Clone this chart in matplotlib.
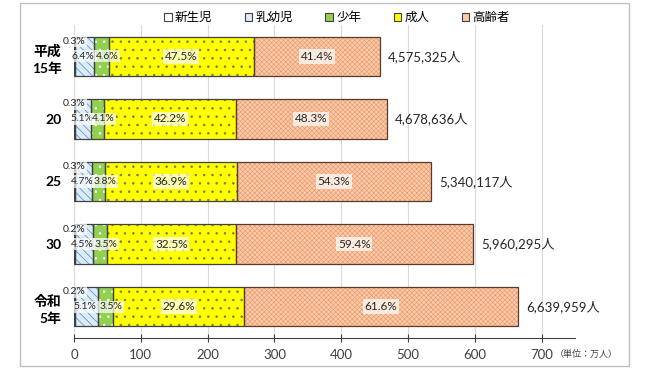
import numpy as np
import matplotlib
matplotlib.use('Agg')
import matplotlib.pyplot as plt
from matplotlib.patches import Patch, Rectangle

plt.rcParams['font.family'] = ['Lato', 'Noto Sans CJK JP', 'DejaVu Sans']
plt.rcParams['hatch.linewidth'] = 0.6

# データ
nendo = ['平成\n15年', '20', '25', '30', '令和\n5年']
sou_jinin = [4575325, 4678636, 5340117, 5960295, 6639959]  # 人
shinseiji = [0.3, 0.3, 0.3, 0.2, 0.2]   # %
nyuyoji = [6.4, 5.1, 4.7, 4.5, 5.1]
shonen = [4.6, 4.1, 3.8, 3.5, 3.5]
seijin = [47.5, 42.2, 36.9, 32.5, 29.6]
koreisha = [41.4, 48.3, 54.3, 59.4, 61.6]
kubun = ['新生児', '乳幼児', '少年', '成人', '高齢者']
xticks = [0, 100, 200, 300, 400, 500, 600, 700]

###### スタイル ######
iro = ['#FFFFFF', '#DDEBF7', '#92D050', '#FFFF00', '#F8CBAD']
hatch_iro = ['#FFFFFF', '#5B9BD5', '#FFFFFF', '#7F7F3F', '#EE9A68']
hatches = [None, '\\\\\\\\', '..', '..', 'xxxxxxx']
waku = ['#404040', '#404040', '#404040', '#404040', '#5A3A2A']

fig = plt.figure(figsize=(6.48, 3.71), dpi=100)
ax = fig.add_axes([74/648, 1-338/371, 501/648, 313/371])

y = np.arange(len(nendo))
total_man = np.array(sou_jinin) / 1e4
pcts = [shinseiji, nyuyoji, shonen, seijin, koreisha]

ax.set_axisbelow(True)
ax.xaxis.grid(True, color='#D9D9D9', lw=0.8)

left = np.zeros(len(nendo))
for k, p in enumerate(pcts):
    w = total_man * np.array(p) / 100.0
    if k == 4:
        plt.rcParams['hatch.linewidth'] = 0.45
    ax.barh(y, w, left=left, height=0.63, color=iro[k], edgecolor=hatch_iro[k],
            hatch=hatches[k], lw=0, zorder=2)
    ax.barh(y, w, left=left, height=0.63, fill=False, edgecolor=waku[k],
            lw=0.9, zorder=3)
    for i in range(len(nendo)):
        txt = f'{p[i]}%'
        fs = 8.5
        if k == 0:
            xx, yy = 0, y[i] - 0.24
            fs = 7.5
        elif k == 1:
            xx, yy = left[i] + w[i] / 2 - 2, y[i]
            fs = 7.5
        elif k == 2:
            xx, yy = left[i] + w[i] / 2 + 9, y[i]
            fs = 7.5
        else:
            xx, yy = left[i] + w[i] / 2, y[i]
        ax.text(xx, yy, txt, ha='center', va='center', fontsize=fs,
                color='#262626', zorder=5 + k,
                bbox=dict(boxstyle='square,pad=0.15', fc='white', ec='none', alpha=0.7))
    left = left + w

for i in range(len(nendo)):
    ax.text(total_man[i] + 13, y[i], f'{sou_jinin[i]:,}人', ha='left',
            va='center', fontsize=9.5, color='#262626')

ax.set_xlim(0, 750)
ax.set_ylim(len(nendo) - 0.5, -0.5)
ax.set_xticks(xticks)
ax.set_yticks(y)
ax.set_yticklabels(nendo, fontsize=10, fontweight='bold', linespacing=1.45)
ax.tick_params(axis='y', length=0, pad=9)
ax.tick_params(axis='x', direction='inout', length=6, color='#404040',
               labelsize=9.5, labelcolor='#404040', pad=5)
for s in ['top', 'right', 'left']:
    ax.spines[s].set_visible(False)
ax.spines['bottom'].set_color('#404040')

fig.text(618/648, 1-354/371, '（単位：万人）', ha='right', va='center',
         fontsize=6.5, color='#404040')

handles = [Patch(facecolor=iro[k], edgecolor='#404040', lw=0.8) for k in range(5)]
fig.legend(handles, kubun, loc='center', bbox_to_anchor=(337/648, 1-17/371),
           ncol=5, frameon=False, fontsize=9, handlelength=0.6, handleheight=0.6,
           handletextpad=0.25, columnspacing=2.6)

fig.patches.append(Rectangle((20/648, 1-366/371), 609/648, 363/371,
                             transform=fig.transFigure, fill=False,
                             edgecolor='#BFBFBF', lw=1))

fig.savefig('out.png', dpi=100)
